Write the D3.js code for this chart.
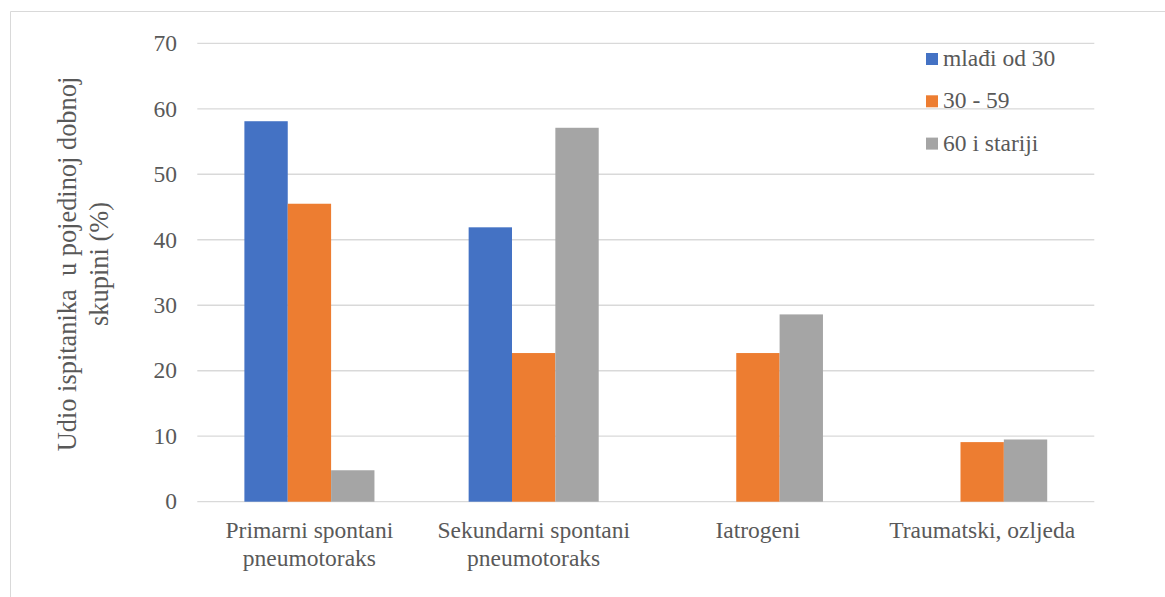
<!DOCTYPE html>
<html>
<head>
<meta charset="utf-8">
<script src="https://cdn.jsdelivr.net/npm/d3@7"></script>
<style>
  body { margin: 0; background: #fff; }
</style>
</head>
<body>
<div id="chart"></div>
<script>
// categories (x-axis, two lines each)
const categories = [
  ['Primarni spontani', 'pneumotoraks'],
  ['Sekundarni spontani', 'pneumotoraks'],
  ['Iatrogeni'],
  ['Traumatski, ozljeda']
];
const seriesNames = ['mlađi od 30', '30 - 59', '60 i stariji'];
const youngValues = [58.1, 41.9, 0, 0];
const middleValues = [45.5, 22.7, 22.7, 9.1];
const oldValues = [4.8, 57.1, 28.6, 9.5];
const yTicks = [0, 10, 20, 30, 40, 50, 60, 70];
const yTitle = ['Udio ispitanika  u pojedinoj dobnoj', 'skupini (%)'];

const colors = ['#4472C4', '#ED7D31', '#A5A5A5'];
const fontFamily = 'Liberation Serif';
const fontSize = 23.5;
const textColor = '#595959';
const width = 1165, height = 597;
const margin = { top: 43.3, left: 197.3, right: 1165 - 1094.3, bottom: 597 - 501.7 };

const rows = categories.map((c, i) => ({
  key: i,
  label: c,
  values: [youngValues[i], middleValues[i], oldValues[i]]
}));

const svg = d3.select('#chart')
  .append('svg')
  .attr('width', width)
  .attr('height', height);

// text helper so every label gets the same font
const styleText = sel => sel
  .attr('font-family', fontFamily)
  .attr('font-size', fontSize)
  .attr('fill', textColor);

// outer chart frame (cut off at the right and bottom)
svg.append('path')
  .attr('d', `M10.5,${height + 2} V11.5 H${width + 2}`)
  .attr('fill', 'none')
  .attr('stroke', '#d9d9d9')
  .attr('stroke-width', 1);

const x0 = d3.scaleBand()
  .domain(rows.map(d => d.key))
  .range([margin.left, width - margin.right])
  .paddingInner(0.42)
  .paddingOuter(0.21);

const x1 = d3.scaleBand()
  .domain([0, 1, 2])
  .range([0, x0.bandwidth()]);

const y = d3.scaleLinear()
  .domain([0, 70])
  .range([height - margin.bottom, margin.top]);

// gridlines
svg.append('g')
  .selectAll('line')
  .data(yTicks)
  .enter()
  .append('line')
  .attr('x1', margin.left)
  .attr('x2', width - margin.right)
  .attr('y1', d => y(d))
  .attr('y2', d => y(d))
  .attr('stroke', '#d9d9d9')
  .attr('stroke-width', 1.3);

// y tick labels
svg.append('g')
  .selectAll('text')
  .data(yTicks)
  .enter()
  .append('text')
  .call(styleText)
  .attr('x', 177)
  .attr('y', d => y(d))
  .attr('dy', '0.33em')
  .attr('text-anchor', 'end')
  .text(d => d);

// bars
const group = svg.append('g')
  .selectAll('g')
  .data(rows)
  .enter()
  .append('g')
  .attr('transform', d => `translate(${x0(d.key)},0)`);

group.selectAll('rect')
  .data(d => d.values.map((v, i) => ({ v, i })))
  .enter()
  .append('rect')
  .attr('x', d => x1(d.i))
  .attr('width', x1.bandwidth())
  .attr('y', d => y(d.v))
  .attr('height', d => y(0) - y(d.v))
  .attr('fill', d => colors[d.i]);

// x labels
const xLabels = svg.append('g')
  .selectAll('text')
  .data(rows)
  .enter()
  .append('text')
  .call(styleText)
  .attr('text-anchor', 'middle');

xLabels.selectAll('tspan')
  .data(d => d.label.map(line => ({ line, cx: x0(d.key) + x0.bandwidth() / 2 })))
  .enter()
  .append('tspan')
  .attr('x', d => d.cx)
  .attr('y', (d, i) => 538 + i * 28)
  .text(d => d.line);

// y axis title (a bit larger than the tick labels)
const title = svg.append('text')
  .call(styleText)
  .attr('font-size', 26.4)
  .attr('transform', 'translate(0,264) rotate(-90)')
  .attr('text-anchor', 'middle')
  .style('white-space', 'pre');

title.selectAll('tspan')
  .data(yTitle)
  .enter()
  .append('tspan')
  .attr('x', 0)
  .attr('y', (d, i) => 76 + i * 31.5)
  .text(d => d);

// legend
const legend = svg.append('g')
  .selectAll('g')
  .data(seriesNames)
  .enter()
  .append('g')
  .attr('transform', (d, i) => `translate(926,${66 + i * 42.3})`);

legend.append('rect')
  .attr('x', 0)
  .attr('y', -13)
  .attr('width', 12)
  .attr('height', 12)
  .attr('fill', (d, i) => colors[i]);

legend.append('text')
  .call(styleText)
  .attr('x', 17)
  .attr('y', 0)
  .text(d => d);
</script>
</body>
</html>
